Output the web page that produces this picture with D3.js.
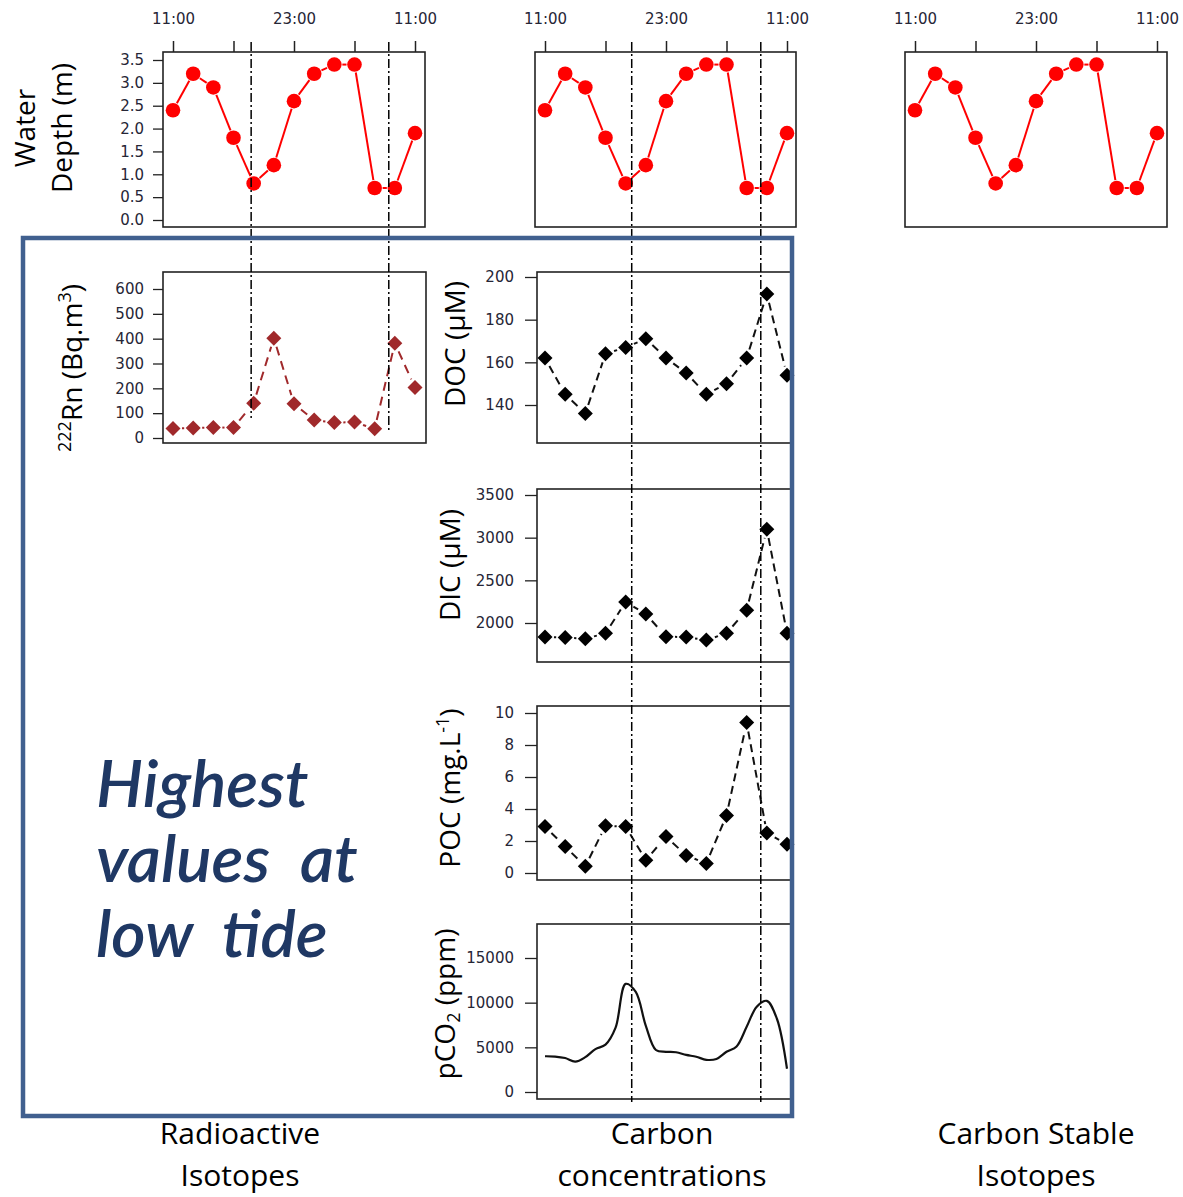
<!DOCTYPE html>
<html><head><meta charset="utf-8">
<script src="https://cdn.jsdelivr.net/npm/d3@7"></script>
<style>body{margin:0;background:#fff} svg{display:block}</style>
</head><body>
<svg id="c" width="1183" height="1197"></svg>
<script>
// ---------------- data ----------------
const sampleHours = [11,13,15,17,19,21,23,25,27,29,31,33,35];
const depth = [2.4,3.2,2.9,1.8,0.8,1.2,2.6,3.2,3.4,3.4,0.7,0.7,1.9];
const rn    = [38,40,42,42,140,402,138,72,62,64,37,382,203];
const doc   = [162,145,136,164,167,171,162,155,145,150,162,192,154];
const dic   = [1836,1830,1815,1880,2246,2105,1840,1835,1800,1880,2150,3100,1880];
const poc   = [2.9,1.65,0.42,2.95,2.9,0.8,2.28,1.1,0.6,3.6,9.4,2.5,1.8];
const pco2Hours = [11,12,13,14,15,16,17,18,19,20,21,22,23,24,25,26,27,28,29,30,31,32,33,34,35];
const pco2  = [4000,3970,3800,3400,3900,4800,5300,7200,12100,11200,7400,4700,4500,4450,4150,3950,3600,3700,4500,5100,7300,9550,10200,8200,2600];
const timeTicks = [11,17,23,29,35];
const timeTickLabels = ["11:00","","23:00","","11:00"];
const depthTicks = [0,0.5,1,1.5,2,2.5,3,3.5];
const rnTicks = [0,100,200,300,400,500,600];
const docTicks = [140,160,180,200];
const dicTicks = [2000,2500,3000,3500];
const pocTicks = [0,2,4,6,8,10];
const pco2Ticks = [0,5000,10000,15000];
const lowTideLeft = [18.75, 32.4];
const lowTideMid = [19.6, 32.4];
const columnTitles = [["Radioactive","Isotopes"],["Carbon","concentrations"],["Carbon Stable","Isotopes"]];
const noteLines = ["Highest","values  at","low  tide"];

// ---------------- layout ----------------
const svg = d3.select("#c");
const AXW = 242;
const cols = [173, 545, 915];
const xs = cols.map(x0 => d3.scaleLinear().domain([11,35]).range([x0, x0+AXW]));
const tickFont = "DejaVu Sans, sans-serif";
const tickColor = "#262636";
const titleFont = "'Open Sans', sans-serif";

function frame(x0, x1, y0, y1){
  svg.append("rect").attr("x",x0).attr("y",y0).attr("width",x1-x0).attr("height",y1-y0)
    .attr("fill","none").attr("stroke","#222").attr("stroke-width",1.6);
}
function yAxis(y, ticks, xpos, size, pad, fmt){
  const g = svg.append("g").attr("transform",`translate(${xpos},0)`)
    .call(d3.axisLeft(y).tickValues(ticks).tickSize(size).tickPadding(pad).tickFormat(fmt || d3.format("d")));
  g.select(".domain").remove();
  g.selectAll("line").attr("stroke","#222").attr("stroke-width",1.3);
  g.selectAll("text").attr("font-family",tickFont).attr("font-size",15).attr("fill",tickColor);
}
function topAxis(x){
  const g = svg.append("g").attr("transform","translate(0,52)")
    .call(d3.axisTop(x).tickValues(timeTicks).tickSize(11).tickPadding(17).tickFormat((d,i)=>timeTickLabels[i]));
  g.select(".domain").remove();
  g.selectAll("line").attr("stroke","#222").attr("stroke-width",1.5);
  g.selectAll("text").attr("font-family",tickFont).attr("font-size",15).attr("fill",tickColor);
}
function gappedLines(pts, gap, color, width, dash){
  const g = svg.append("g");
  for(let i=0;i<pts.length-1;i++){
    const [x1,y1]=pts[i],[x2,y2]=pts[i+1];
    const dx=x2-x1, dy=y2-y1, L=Math.hypot(dx,dy);
    if(L<=2*gap) continue;
    const ux=dx/L, uy=dy/L;
    g.append("line").attr("x1",x1+ux*gap).attr("y1",y1+uy*gap)
      .attr("x2",x2-ux*gap).attr("y2",y2-uy*gap)
      .attr("stroke",color).attr("stroke-width",width)
      .attr("stroke-dasharray",dash||null);
  }
}
const diamond = r => `M0,${-r}L${r},0L0,${r}L${-r},0Z`;
function diamonds(pts, color){
  svg.append("g").selectAll("path").data(pts).join("path")
    .attr("d",diamond(7.5)).attr("transform",d=>`translate(${d[0]},${d[1]})`).attr("fill",color);
}
function vtitle(x, y, parts){
  const t = svg.append("text").attr("transform",`translate(${x},${y}) rotate(-90)`)
    .attr("text-anchor","middle").attr("font-family",titleFont).attr("font-size",28).attr("fill","#000");
  parts.forEach(p=>{
    const s = t.append("tspan").text(p.t);
    if(p.fs) s.attr("font-size",p.fs);
    if(p.dy) s.attr("dy",p.dy);
  });
}

// ---------------- water depth panels ----------------
const yDepth = d3.scaleLinear().domain([0,3.5]).range([220,60]);
const frameRightTop = [425, 796, 1167];
cols.forEach((x0,ci)=>{
  frame(x0-10, frameRightTop[ci], 52, 227);
  topAxis(xs[ci]);
  const pts = sampleHours.map((h,i)=>[xs[ci](h), yDepth(depth[i])]);
  gappedLines(pts, 8, "#ff0000", 2);
  svg.append("g").selectAll("circle").data(pts).join("circle")
    .attr("cx",d=>d[0]).attr("cy",d=>d[1]).attr("r",7.3).attr("fill","#ff0000");
});
yAxis(yDepth, depthTicks, 163, 10, 9, d3.format(".1f"));
vtitle(35, 128, [{t:"Water"}]);
vtitle(72, 128, [{t:"Depth (m)"}]);

// ---------------- Rn ----------------
const yRn = d3.scaleLinear().domain([0,600]).range([438,289]);
frame(163, 426, 272, 443);
yAxis(yRn, rnTicks, 163, 10, 9);
{
  const pts = sampleHours.map((h,i)=>[xs[0](h), yRn(rn[i])]);
  gappedLines(pts, 9, "#a0292b", 2, "9,6");
  diamonds(pts, "#a0292b");
}
vtitle(82, 368, [{t:"222",fs:18,dy:-11},{t:"Rn (Bq.m",dy:11},{t:"3",fs:18,dy:-11},{t:")",dy:11}]);

// ---------------- carbon panels ----------------
const midPanels = [
  {vals:doc, ticks:docTicks, y:d3.scaleLinear().domain([140,200]).range([405,277]), f:[272,443], title:[{t:"DOC (µM)"}], tx:465, ty:344},
  {vals:dic, ticks:dicTicks, y:d3.scaleLinear().domain([2000,3500]).range([623,495]), f:[489,662], title:[{t:"DIC (µM)"}], tx:460, ty:565},
  {vals:poc, ticks:pocTicks, y:d3.scaleLinear().domain([0,10]).range([873,713]), f:[706,880], title:[{t:"POC (mg.L"},{t:"-1",fs:18,dy:-11},{t:")",dy:11}], tx:460, ty:788},
];
midPanels.forEach(p=>{
  frame(537, 792, p.f[0], p.f[1]);
  yAxis(p.y, p.ticks, 537, 12, 11);
  const pts = sampleHours.map((h,i)=>[xs[1](h), p.y(p.vals[i])]);
  gappedLines(pts, 9, "#111", 2, "8,5");
  diamonds(pts, "#000");
  vtitle(p.tx, p.ty, p.title);
});
const yP = d3.scaleLinear().domain([0,15000]).range([1092,958]);
frame(537, 792, 924, 1099);
yAxis(yP, pco2Ticks, 537, 12, 11);
svg.append("path").datum(pco2Hours.map((h,i)=>[xs[1](h), yP(pco2[i])]))
  .attr("d", d3.line().curve(d3.curveCatmullRom.alpha(0.5)))
  .attr("fill","none").attr("stroke","#111").attr("stroke-width",2.2);
vtitle(455, 1004, [{t:"pCO"},{t:"2",fs:18,dy:5},{t:" (ppm)",dy:-5}]);

// ---------------- low tide lines ----------------
const dashDot = "9,3,2,3";
lowTideLeft.forEach((h,i)=>{
  svg.append("line").attr("x1",xs[0](h)).attr("x2",xs[0](h)).attr("y1",42).attr("y2",i===0?418:430)
    .attr("stroke","#000").attr("stroke-width",1.5).attr("stroke-dasharray",dashDot);
});
lowTideMid.forEach(h=>{
  svg.append("line").attr("x1",xs[1](h)).attr("x2",xs[1](h)).attr("y1",42).attr("y2",1102)
    .attr("stroke","#000").attr("stroke-width",1.5).attr("stroke-dasharray",dashDot);
});

// ---------------- box, note, column titles ----------------
svg.append("rect").attr("x",23).attr("y",238).attr("width",769).attr("height",878)
  .attr("fill","none").attr("stroke","#41608f").attr("stroke-width",4.5);

const note = svg.append("g");
noteLines.forEach((t,i)=>{
  note.append("text").attr("x",96).attr("y",807+75*i).text(t)
    .attr("font-family","Lato, sans-serif").attr("font-style","italic").attr("font-weight","600")
    .attr("font-size",66).attr("fill","#1f3864").style("white-space","pre");
});

const titleX = [240, 662, 1036];
columnTitles.forEach((lines,ci)=>{
  lines.forEach((t,li)=>{
    svg.append("text").attr("x",titleX[ci]).attr("y",1144+42*li).attr("text-anchor","middle")
      .attr("font-family",titleFont).attr("font-size",30).attr("fill","#000").text(t);
  });
});
</script>
</body></html>
